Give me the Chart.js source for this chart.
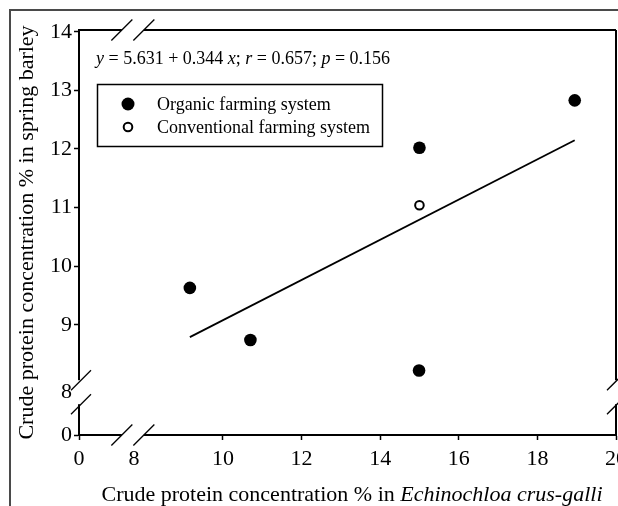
<!DOCTYPE html>
<html>
<head>
<meta charset="utf-8">
<script src="https://cdn.jsdelivr.net/npm/chart.js@4.4.1/dist/chart.umd.min.js"></script>
<style>
  html, body { margin: 0; padding: 0; background: #fff; }
  canvas { display: block; }
</style>
</head>
<body>
<canvas id="chart" width="618" height="506"></canvas>
<script>
// ---- data ----
const organicX = [9.16, 10.70, 14.99, 15.00, 18.95];
const organicY = [9.63, 8.74, 8.22, 12.02, 12.83];
const conventionalX = [15.00];
const conventionalY = [11.04];
const fitX = [9.16, 18.95];
const fitY = [8.79, 12.15];

// broken axes: "0" sits at the axis origin, "8" sits in the break
const xMin = 6.34, xMax = 20;
const yMin = 7.12, yMax = 14.03;
const xTickValues = [6.34, 7.74, 10, 12, 14, 16, 18, 20];
const xTickLabels = ["0", "8", "10", "12", "14", "16", "18", "20"];
const yTickValues = [7.12, 7.85, 9, 10, 11, 12, 13, 14];
const yTickLabels = ["0", "8", "9", "10", "11", "12", "13", "14"];
const xBreak = 7.71;
const yBreak = 7.85;

const seriesLabels = ["Organic farming system", "Conventional farming system"];
const equationParts = [
  ["y", true], [" = 5.631 + 0.344 ", false], ["x", true], ["; ", false],
  ["r", true], [" = 0.657; ", false], ["p", true], [" = 0.156", false]
];
const xTitleParts = [["Crude protein concentration % in ", false], ["Echinochloa crus-galli", true]];
const yTitle = "Crude protein concentration % in spring barley";

const serif = "'Liberation Serif', 'Times New Roman', serif";
const font = (size, italic) => (italic ? "italic " : "") + size + "px " + serif;

// draw a run of text pieces, some italic
const drawRuns = (ctx, parts, x, y, size) => {
  parts.forEach(([txt, it]) => {
    ctx.font = font(size, it);
    ctx.fillText(txt, x, y);
    x += ctx.measureText(txt).width;
  });
};
const runsWidth = (ctx, parts, size) => parts.reduce((w, [txt, it]) => {
  ctx.font = font(size, it);
  return w + ctx.measureText(txt).width;
}, 0);

const slash = (ctx, cx, cy, h) => {
  ctx.beginPath();
  ctx.moveTo(cx - h, cy + h);
  ctx.lineTo(cx + h, cy - h);
  ctx.stroke();
};

// ─── frame, breaks, equation, legend, x title ────────────────
const decorPlugin = {
  id: "decor",
  beforeDraw(chart) {
    const ctx = chart.ctx;
    ctx.save();
    ctx.strokeStyle = "#4a4a4a";
    ctx.lineWidth = 2;
    ctx.beginPath();
    ctx.moveTo(10, 506); ctx.lineTo(10, 10); ctx.lineTo(618, 10);
    ctx.stroke();
    ctx.restore();
  },
  afterDraw(chart) {
    const ctx = chart.ctx;
    const { left, right, top, bottom } = chart.chartArea;
    const xs = chart.scales.x, ys = chart.scales.y;
    ctx.save();

    // top and right borders of the plot box
    ctx.strokeStyle = "#000";
    ctx.lineWidth = 2;
    ctx.beginPath();
    ctx.moveTo(left, top); ctx.lineTo(right, top);
    ctx.moveTo(right, top); ctx.lineTo(right, bottom);
    ctx.stroke();

    // axis breaks
    const bx = xs.getPixelForValue(xBreak);
    const by = ys.getPixelForValue(yBreak);
    ctx.fillStyle = "#fff";
    ctx.fillRect(bx - 11, bottom - 3, 22, 6);
    ctx.fillRect(bx - 11, top - 3, 22, 6);
    ctx.fillRect(left - 3, by - 12, 6, 24);
    ctx.fillRect(right - 3, by - 12, 6, 24);
    ctx.strokeStyle = "#000";
    ctx.lineWidth = 1.3;
    [-11, 11].forEach(d => {
      slash(ctx, bx + d, bottom, 10.5);
      slash(ctx, bx + d, top, 10.5);
      slash(ctx, left + 2, by + (d > 0 ? 12 : -12), 10);
      slash(ctx, right + 1, by + (d > 0 ? 12 : -12), 10);
    });

    // regression equation
    ctx.fillStyle = "#000";
    ctx.textBaseline = "alphabetic";
    drawRuns(ctx, equationParts, left + 17, top + 34, 18);

    // legend box
    const lx = left + 18, ly = top + 54, lw = 285, lh = 62;
    ctx.lineWidth = 1.5;
    ctx.strokeRect(lx + 0.5, ly + 0.5, lw, lh);
    const items = chart.data.datasets.slice(0, 2);
    items.forEach((ds, i) => {
      const cy = ly + 20 + i * 23;
      const cx = lx + 31;
      ctx.beginPath();
      if (i === 0) {
        ctx.arc(cx, cy, 6.5, 0, Math.PI * 2);
        ctx.fillStyle = "#000";
        ctx.fill();
      } else {
        ctx.arc(cx, cy, 4.3, 0, Math.PI * 2);
        ctx.fillStyle = "#fff";
        ctx.fill();
        ctx.lineWidth = 2;
        ctx.strokeStyle = "#000";
        ctx.stroke();
      }
      ctx.fillStyle = "#000";
      ctx.font = font(18, false);
      ctx.fillText(ds.label, lx + 60, cy + 6);
    });

    // x axis title with italic species name
    const w = runsWidth(ctx, xTitleParts, 22);
    drawRuns(ctx, xTitleParts, 352 - w / 2, 501, 22);
    ctx.restore();
  }
};

new Chart(document.getElementById("chart"), {
  type: "scatter",
  data: {
    datasets: [
      {
        label: seriesLabels[0],
        data: organicX.map((x, i) => ({ x, y: organicY[i] })),
        pointRadius: 6.3,
        pointBackgroundColor: "#000",
        pointBorderColor: "#000",
        pointBorderWidth: 0
      },
      {
        label: seriesLabels[1],
        data: conventionalX.map((x, i) => ({ x, y: conventionalY[i] })),
        pointRadius: 4.3,
        pointBackgroundColor: "#fff",
        pointBorderColor: "#000",
        pointBorderWidth: 2
      },
      {
        type: "line",
        label: "fit",
        data: fitX.map((x, i) => ({ x, y: fitY[i] })),
        borderColor: "#000",
        borderWidth: 1.8,
        pointRadius: 0,
        fill: false
      }
    ]
  },
  options: {
    responsive: false,
    animation: false,
    events: [],
    layout: { autoPadding: false, padding: { top: 30, right: 2, bottom: 0, left: 0 } },
    plugins: { legend: { display: false }, tooltip: { enabled: false } },
    scales: {
      x: {
        type: "linear",
        min: xMin, max: xMax,
        afterBuildTicks: s => { s.ticks = xTickValues.map(v => ({ value: v })); },
        afterFit: s => { s.height = 71; s.paddingLeft = 0; s.paddingRight = 0; },
        ticks: {
          autoSkip: false, maxRotation: 0,
          color: "#000", padding: 6,
          font: { family: serif, size: 22 },
          callback: (v, i) => xTickLabels[i]
        },
        grid: {
          drawOnChartArea: false, drawTicks: true, tickLength: 5,
          tickColor: c => (c.index === 1 ? "rgba(0,0,0,0)" : "#000"),
          tickWidth: 1.5
        },
        border: { display: true, color: "#000", width: 2 }
      },
      y: {
        type: "linear",
        min: yMin, max: yMax,
        afterBuildTicks: s => { s.ticks = yTickValues.map(v => ({ value: v })); },
        afterFit: s => { s.width = 79; s.paddingTop = 0; s.paddingBottom = 0; },
        ticks: {
          autoSkip: false,
          color: "#000", padding: 2,
          font: { family: serif, size: 22 },
          callback: (v, i) => yTickLabels[i]
        },
        grid: {
          drawOnChartArea: false, drawTicks: true, tickLength: 5,
          tickColor: c => (c.index === 1 ? "rgba(0,0,0,0)" : "#000"),
          tickWidth: 1.5
        },
        border: { display: true, color: "#000", width: 2 },
        title: {
          display: true, text: yTitle, color: "#000",
          font: { family: serif, size: 22 },
          padding: { top: 14, bottom: 0 }
        }
      }
    }
  },
  plugins: [decorPlugin]
});
</script>
</body>
</html>
